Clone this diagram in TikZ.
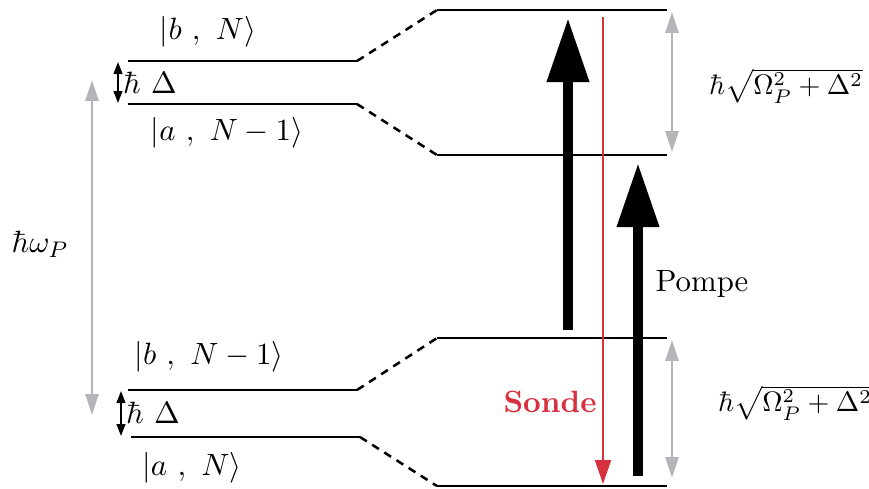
\documentclass[tikz,border=0pt,11pt]{standalone}
\usepackage{amsmath}
\usepackage{xcolor}
\usetikzlibrary{arrows.meta}
\definecolor{sonde}{HTML}{D7303F}
\definecolor{gapgray}{HTML}{B4B4B9}
\tikzset{
  level/.style={line width=0.9pt},
  link/.style={line width=0.9pt, dash pattern=on 1mm off 0.8mm},
  pump/.style={-{Triangle[length=8mm,width=5mm]}, line width=3.6pt},
  probe/.style={-{Triangle[length=3mm,width=2mm]}, line width=0.7pt, draw=sonde},
  gaparrow/.style={{Triangle[length=2.6mm,width=1.6mm]}-{Triangle[length=2.6mm,width=1.6mm]},
                   line width=1pt, draw=gapgray},
  split/.style={{Triangle[length=1.5mm,width=1.1mm]}-{Triangle[length=1.5mm,width=1.1mm]},
                line width=0.6pt},
  lbl/.style={inner sep=0pt}
}

\begin{document}
\begin{tikzpicture}[x=0.0125cm,y=-0.0125cm]
        \useasboundingbox (0,0) rectangle (869,488);

        % bare levels
        \coordinate (bN-l) at (128,61);   \coordinate (bN-r) at (357,61);
        \coordinate (aN1-l) at (128,104); \coordinate (aN1-r) at (357,104);
        \coordinate (bN1-l) at (128,390); \coordinate (bN1-r) at (357,390);
        \coordinate (aN-l) at (131,437);  \coordinate (aN-r) at (360,437);
        % dressed levels
        \coordinate (d1-l) at (437,10);  \coordinate (d1-r) at (667,10);
        \coordinate (d2-l) at (437,155); \coordinate (d2-r) at (667,155);
        \coordinate (d3-l) at (437,338); \coordinate (d3-r) at (667,338);
        \coordinate (d4-l) at (437,486); \coordinate (d4-r) at (667,486);

        \draw[level] (bN-l) -- (bN-r);
        \draw[level] (aN1-l) -- (aN1-r);
        \draw[level] (bN1-l) -- (bN1-r);
        \draw[level] (aN-l) -- (aN-r);
        \draw[level] (d1-l) -- (d1-r);
        \draw[level] (d2-l) -- (d2-r);
        \draw[level] (d3-l) -- (d3-r);
        \draw[level] (d4-l) -- (d4-r);

        \draw[link] (bN-r) -- (d1-l);
        \draw[link] (aN1-r) -- (d2-l);
        \draw[link] (bN1-r) -- (d3-l);
        \draw[link] (aN-r) -- (d4-l);

        % splittings
        \coordinate (s1-t) at (118,62);  \coordinate (s1-b) at (118,103);
        \coordinate (s2-t) at (121,391); \coordinate (s2-b) at (121,436);
        \draw[split] (s1-t) -- (s1-b);
        \draw[split] (s2-t) -- (s2-b);
        \node[lbl] (delta1) at (150,83) {$\hbar\ \Delta$};
        \node[lbl] (delta2) at (153,413) {$\hbar\ \Delta$};

        % gray gaps
        \coordinate (w-t) at (92,80);   \coordinate (w-b) at (92,415);
        \coordinate (g1-t) at (672,12); \coordinate (g1-b) at (672,152);
        \coordinate (g2-t) at (672,340); \coordinate (g2-b) at (672,478);
        \draw[gaparrow] (w-t) -- (w-b);
        \draw[gaparrow] (g1-t) -- (g1-b);
        \draw[gaparrow] (g2-t) -- (g2-b);
        \node[lbl] (omega) at (40,244) {$\hbar\omega_P$};
        \node[lbl,font=\small] (rabi1) at (786,86) {$\hbar\sqrt{\Omega_P^2+\Delta^2}$};
        \node[lbl,font=\small] (rabi2) at (795,403) {$\hbar\sqrt{\Omega_P^2+\Delta^2}$};

        % kets
        \node[lbl] (ketbN) at (208,32) {$|b\ ,\ N\rangle$};
        \node[lbl] (ketaN1) at (227,133) {$|a\ ,\ N - 1\rangle$};
        \node[lbl] (ketbN1) at (209,357) {$|b\ ,\ N - 1\rangle$};
        \node[lbl] (ketaN) at (192,468) {$|a\ ,\ N\rangle$};

        % pump and probe
        \coordinate (p1-s) at (568,330); \coordinate (p1-e) at (568,18);
        \coordinate (p2-s) at (638,476); \coordinate (p2-e) at (638,163);
        \coordinate (pr-s) at (603,17);  \coordinate (pr-e) at (603,484);
        \draw[pump] (p1-s) -- (p1-e);
        \draw[pump] (p2-s) -- (p2-e);
        \draw[probe] (pr-s) -- (pr-e);
        \node[lbl] (pompe) at (702,284) {Pompe};
        \node[lbl,text=sonde,font=\bfseries] (sonde) at (550,402) {Sonde};
\end{tikzpicture}
\end{document}
